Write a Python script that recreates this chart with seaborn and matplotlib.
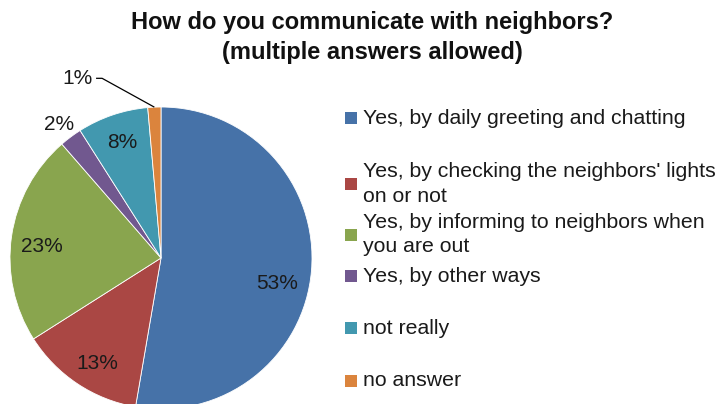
import numpy as np
import matplotlib
matplotlib.use("Agg")
import matplotlib.pyplot as plt
import seaborn as sns
from matplotlib.patches import Rectangle

categories = [
    "Yes, by daily greeting and chatting",
    "Yes, by checking the neighbors' lights\non or not",
    "Yes, by informing to neighbors when\nyou are out",
    "Yes, by other ways",
    "not really",
    "no answer",
]
shares = [52.7, 13.3, 22.6, 2.4, 7.6, 1.4]
colors = ["#4672A8", "#AA4744", "#89A54E", "#71588F", "#4298AF", "#DB843D"]

sns.set_theme(style="white")
plt.rcParams["font.family"] = ["Liberation Sans", "DejaVu Sans"]

W, H = 717, 404
fig = plt.figure(figsize=(W / 100, H / 100), dpi=100)
fig.patch.set_facecolor("white")

# pie axes: centre (161, 258) px from top-left, radius 151 px
cx, cy, r = 161, 258, 151
ax = fig.add_axes([(cx - r) / W, (H - cy - r) / H, 2 * r / W, 2 * r / H])

wedges, texts, autotexts = ax.pie(
    shares, colors=colors, startangle=90, counterclock=False, radius=1,
    autopct="%.0f%%", pctdistance=0.8,
    wedgeprops=dict(edgecolor="white", linewidth=0.6),
    textprops=dict(fontsize=15, color="#1a1a1a"),
)
ax.set_xlim(-1, 1)
ax.set_ylim(-1, 1)
ax.set_aspect("equal")
ax.axis("off")
for w in wedges:
    w.set_clip_on(False)

# nudge labels to best-fit spots
nudges = [(-0.03, -0.1), (0.02, -0.03), (0.0, -0.04), (0.0, 0.0), (0.0, 0.01), (0.0, 0.0)]
for at, (dx, dy) in zip(autotexts, nudges):
    x, y = at.get_position()
    at.set_position((x + dx, y + dy))

# small slices: label outside the pie
x, y = autotexts[3].get_position()
autotexts[3].set_position((x / 0.8 * 1.13, y / 0.8 * 1.13 - 0.02))

# smallest slice gets a leader line
t = autotexts[5]
t.set_visible(False)
w = wedges[5]
mid = np.deg2rad((w.theta1 + w.theta2) / 2)
edge = (np.cos(mid), np.sin(mid))
ax.plot([edge[0], -0.39, -0.43], [edge[1], 1.19, 1.19], color="black", lw=0.9,
        clip_on=False, solid_capstyle="butt")
ax.text(-0.45, 1.19, t.get_text(), ha="right", va="center", fontsize=15,
        color="#1a1a1a", clip_on=False)

# title
fig.text(372 / W, 1 - 22 / H, "How do you communicate with neighbors?",
         ha="center", va="center", fontsize=17, fontweight="bold", color="#111111")
fig.text(372 / W, 1 - 52 / H, "(multiple answers allowed)",
         ha="center", va="center", fontsize=17, fontweight="bold", color="#111111")

# legend
entry_y = [118, 184, 234.5, 276, 328, 381]
for label, col, y in zip(categories, colors, entry_y):
    fig.patches.append(Rectangle((345 / W, 1 - (y + 6) / H), 12 / W, 12 / H,
                                 transform=fig.transFigure, facecolor=col,
                                 edgecolor="none"))
    fig.text(363 / W, 1 - y / H, label, ha="left", va="center", fontsize=15.3,
             color="#1a1a1a", linespacing=1.38)

fig.savefig("out.png", dpi=100, facecolor="white")
